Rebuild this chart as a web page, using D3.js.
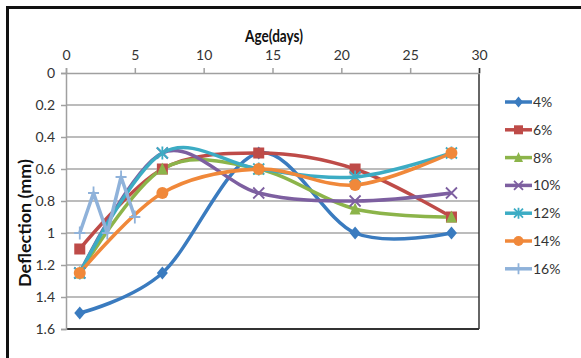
<!DOCTYPE html>
<html><head><meta charset="utf-8">
<script src="https://cdn.jsdelivr.net/npm/d3@7"></script>
<style>body{margin:0;background:#fff}svg{display:block}</style>
</head><body>
<svg id="c" width="581" height="358"></svg>
<script>
const xTicks = [0, 5, 10, 15, 20, 25, 30];
const yTicks = [0, 0.2, 0.4, 0.6, 0.8, 1, 1.2, 1.4, 1.6];
const seriesNames = ["4%", "6%", "8%", "10%", "12%", "14%", "16%"];
const days = [1, 7, 14, 21, 28];
const s4 = [1.5, 1.25, 0.5, 1.0, 1.0];
const s6 = [1.1, 0.6, 0.5, 0.6, 0.9];
const s8 = [1.25, 0.6, 0.6, 0.85, 0.9];
const s10 = [1.25, 0.5, 0.75, 0.8, 0.75];
const s12 = [1.25, 0.5, 0.6, 0.65, 0.5];
const s14 = [1.25, 0.75, 0.6, 0.7, 0.5];
const days16 = [1, 2, 3, 4, 5];
const s16 = [1.0, 0.75, 1.0, 0.65, 0.9];
const colors = ["#3a7bbf", "#be4b48", "#8cb44a", "#7d5fa0", "#3cacc4", "#f0883a", "#8fb2da"];
const markers = ["diamond", "square", "triangle", "x", "star", "circle", "plus"];

const series = [
  {name: seriesNames[0], xs: days, ys: s4, smooth: true},
  {name: seriesNames[1], xs: days, ys: s6, smooth: true},
  {name: seriesNames[2], xs: days, ys: s8, smooth: true},
  {name: seriesNames[3], xs: days, ys: s10, smooth: true},
  {name: seriesNames[4], xs: days, ys: s12, smooth: true},
  {name: seriesNames[5], xs: days, ys: s14, smooth: true},
  {name: seriesNames[6], xs: days16, ys: s16, smooth: false}
];

const svg = d3.select("#c");
const font = "Lato, 'Open Sans', sans-serif";
const L = 66, R = 479, T = 73, B = 329;
const x = d3.scaleLinear().domain([0, 30]).range([L, R]);
const y = d3.scaleLinear().domain([0, 1.6]).range([T, B]);

// outer frame
svg.append("rect").attr("x", 7.5).attr("y", 7.5).attr("width", 590).attr("height", 370)
  .attr("fill", "none").attr("stroke", "#111").attr("stroke-width", 3);

// gridlines
svg.append("g").selectAll("line").data(yTicks.slice(1, -1)).join("line")
  .attr("x1", L).attr("x2", R).attr("y1", d => y(d)).attr("y2", d => y(d))
  .attr("stroke", "#a6a6a6").attr("stroke-width", 1.5);

// plot frame right/bottom
svg.append("line").attr("x1", R).attr("x2", R).attr("y1", T).attr("y2", B).attr("stroke", "#333").attr("stroke-width", 1.5);
svg.append("line").attr("x1", L).attr("x2", R).attr("y1", B).attr("y2", B).attr("stroke", "#333").attr("stroke-width", 2);

// axes
const xAxis = d3.axisTop(x).tickValues(xTicks).tickSize(5).tickPadding(8).tickFormat(d3.format("d"));
const gx = svg.append("g").attr("transform", `translate(0,${T})`).call(xAxis);
const yAxis = d3.axisLeft(y).tickValues(yTicks).tickSize(5).tickPadding(6).tickFormat(d => String(d));
const gy = svg.append("g").attr("transform", `translate(${L},0)`).call(yAxis);
[gx, gy].forEach(g => {
  g.select(".domain").attr("stroke", "#a0a0a0").attr("stroke-width", 1.5);
  g.selectAll(".tick line").attr("stroke", "#a0a0a0").attr("stroke-width", 1.5);
  g.selectAll("text").attr("font-family", font).attr("font-size", 14).attr("fill", "#333");
});
gx.selectAll(".tick").filter(d => d === 30).select("line").attr("stroke", "#333");

// titles
svg.append("text").attr("x", 274).attr("y", 42).attr("text-anchor", "middle")
  .attr("font-family", font).attr("font-weight", "bold").attr("font-size", 17.5).attr("fill", "#111")
  .attr("textLength", 58).attr("lengthAdjust", "spacingAndGlyphs").text("Age(days)");
svg.append("text").attr("transform", "translate(31,223) rotate(-90)").attr("text-anchor", "middle")
  .attr("font-family", font).attr("font-weight", "bold").attr("font-size", 17).attr("fill", "#111")
  .attr("textLength", 128).attr("lengthAdjust", "spacingAndGlyphs").text("Deflection (mm)");

function drawMarker(g, type, color, cx, cy, s) {
  const h = s / 2;
  if (type === "diamond") {
    g.append("path").attr("d", `M${cx},${cy - h - 1}L${cx + h},${cy}L${cx},${cy + h + 1}L${cx - h},${cy}Z`).attr("fill", color);
  } else if (type === "square") {
    g.append("rect").attr("x", cx - h).attr("y", cy - h).attr("width", s).attr("height", s).attr("fill", color);
  } else if (type === "triangle") {
    g.append("path").attr("d", `M${cx},${cy - h - 1}L${cx + h},${cy + h}L${cx - h},${cy + h}Z`).attr("fill", color);
  } else if (type === "circle") {
    g.append("circle").attr("cx", cx).attr("cy", cy).attr("r", h + 0.5).attr("fill", color);
  } else if (type === "x") {
    g.append("path").attr("d", `M${cx - h},${cy - h}L${cx + h},${cy + h}M${cx - h},${cy + h}L${cx + h},${cy - h}`)
      .attr("stroke", color).attr("stroke-width", 1.8);
  } else if (type === "star") {
    g.append("path").attr("d", `M${cx - h},${cy - h}L${cx + h},${cy + h}M${cx - h},${cy + h}L${cx + h},${cy - h}M${cx},${cy - h - 1}L${cx},${cy + h + 1}`)
      .attr("stroke", color).attr("stroke-width", 1.8);
  } else if (type === "plus") {
    g.append("path").attr("d", `M${cx},${cy - h - 1}L${cx},${cy + h + 1}M${cx - h},${cy}L${cx + h},${cy}`)
      .attr("stroke", color).attr("stroke-width", 1.8);
  }
}

const plot = svg.append("g");
series.forEach((s, i) => {
  const pts = s.xs.map((d, j) => [d, s.ys[j]]);
  const line = d3.line().x(d => x(d[0])).y(d => y(d[1]))
    .curve(s.smooth ? d3.curveCardinal.tension(0) : d3.curveLinear);
  plot.append("path").datum(pts).attr("d", line).attr("fill", "none")
    .attr("stroke", colors[i]).attr("stroke-width", 3.5).attr("stroke-linejoin", "round");
});
series.forEach((s, i) => {
  const g = plot.append("g");
  s.xs.forEach((d, j) => drawMarker(g, markers[i], colors[i], x(d), y(s.ys[j]), 11));
});

// legend
const lg = svg.append("g");
series.forEach((s, i) => {
  const ly = 102 + i * 27.8;
  lg.append("line").attr("x1", 505).attr("x2", 532).attr("y1", ly).attr("y2", ly)
    .attr("stroke", colors[i]).attr("stroke-width", 3.5);
  drawMarker(lg, markers[i], colors[i], 518.5, ly, 9);
  lg.append("text").attr("x", 533).attr("y", ly + 5).attr("font-family", font).attr("font-size", 14)
    .attr("fill", "#333").text(s.name);
});
</script>
</body></html>
